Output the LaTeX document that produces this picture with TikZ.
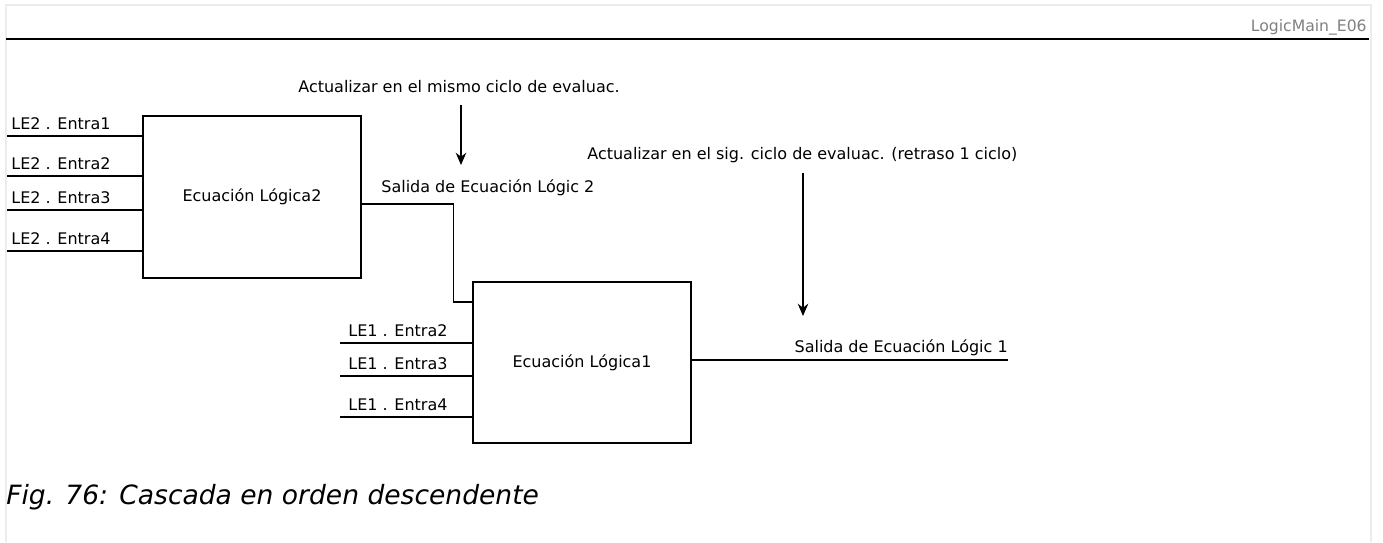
\documentclass[tikz,border=0pt]{standalone}
\usepackage{fontspec}
\setmainfont{DejaVu Sans}
\usepackage{tikz}
\usetikzlibrary{arrows.meta}

\begin{document}
\begin{tikzpicture}[x=0.02cm,y=-0.02cm,
  lbl/.style={font=\fontsize{9.1}{11}\selectfont, inner sep=0pt},
  wire/.style={line width=0.75pt},
  eqbox/.style={draw, line width=0.75pt, minimum width=4.36cm, minimum height=3.24cm,
    font=\fontsize{9.1}{11}\selectfont},
  updarrow/.style={line width=0.75pt, -{Stealth[length=7pt,width=6pt]}}]
\useasboundingbox (0,0) rectangle (1383,542);
% page frame and header
\draw[gray!15, line width=1.2pt] (6,542) -- (6,5) -- (1371,5) -- (1371,542);
\draw[line width=1.6pt] (6,39) -- (1369,39);
\node[lbl, anchor=base east, text=gray, font=\fontsize{8.9}{10}\selectfont] (tag) at (1367,31) {LogicMain\_E06};

% logic equation 2
\node[eqbox] (lg2) at (252,197) {Ecuación Lógica2};
\foreach \i/\y in {1/136,2/176,3/210,4/251}{
  \coordinate (in2\i) at (7,\y);
  \draw[wire] (in2\i) -- (in2\i -| lg2.west);
  \node[lbl, anchor=base west] at ([shift={(4,-7)}]in2\i) {LE2 . Entra\i};
}

% logic equation 1
\node[eqbox, minimum height=3.22cm] (lg1) at (582,362.5) {Ecuación Lógica1};
\foreach \i/\y in {2/343,3/376,4/417}{
  \coordinate (in1\i) at (340,\y);
  \draw[wire] (in1\i) -- (in1\i -| lg1.west);
  \node[lbl, anchor=base west] at ([shift={(8,-7)}]in1\i) {LE1 . Entra\i};
}

% cascade
\draw[wire] (lg2.east |- 0,204) -- ++(92,0) |- (lg1.west |- 0,302);
\node[lbl, anchor=base west] (out2) at (381,192) {Salida de Ecuación Lógic 2};

\coordinate (res1) at (1008,360);
\draw[wire] (lg1.east |- res1) -- (res1);
\node[lbl, anchor=base east] (out1) at (1008,352) {Salida de Ecuación Lógic 1};

% update notes
\node[lbl, anchor=base west] (upd1) at (298,92) {Actualizar en el mismo ciclo de evaluac.};
\coordinate (a1s) at (461,105);
\coordinate (a1e) at (461,165);
\draw[updarrow] (a1s) -- (a1e);

\node[lbl, anchor=base west] (upd2) at (587,159) {Actualizar en el sig. ciclo de evaluac. (retraso 1 ciclo)};
\coordinate (a2s) at (803,173);
\coordinate (a2e) at (803,316);
\draw[updarrow] (a2s) -- (a2e);

% caption
\node[anchor=base west, inner sep=0pt, font=\fontsize{15.1}{18}\selectfont\itshape] (cap)
  at (6,504) {Fig. 76: Cascada en orden descendente};
\end{tikzpicture}
\end{document}
